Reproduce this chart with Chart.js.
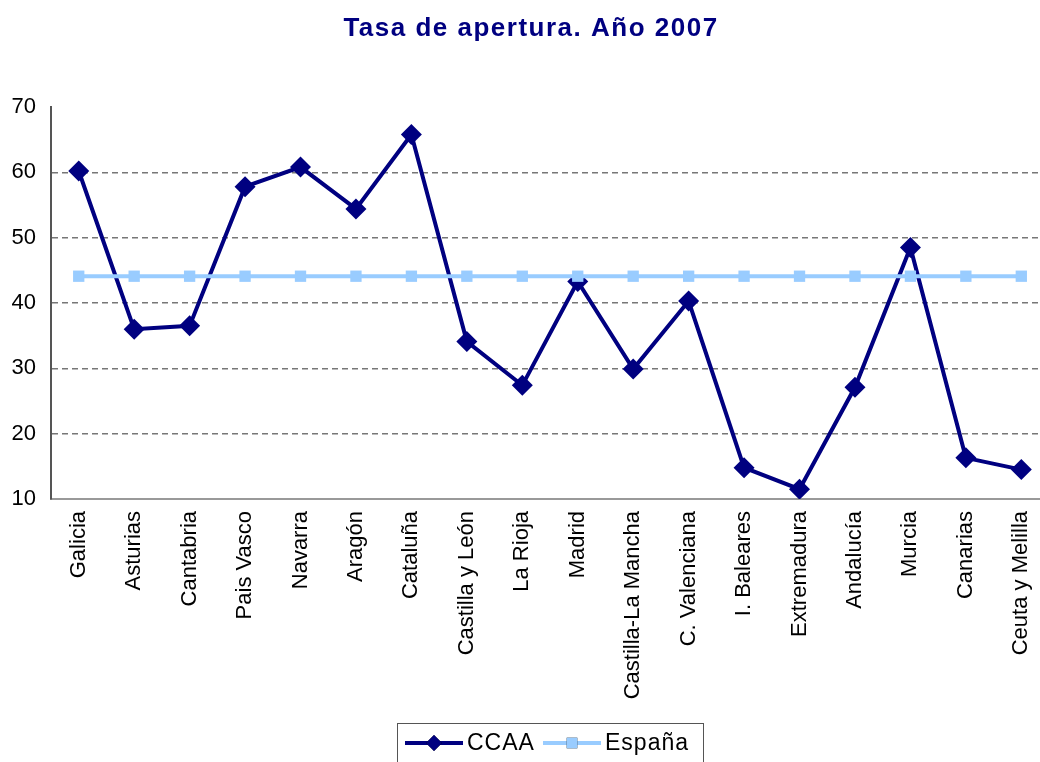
<!DOCTYPE html>
<html>
<head>
<meta charset="utf-8">
<script src="https://cdn.jsdelivr.net/npm/chart.js@4/dist/chart.umd.min.js"></script>
<style>
    html, body { margin: 0; padding: 0; background: #fff; overflow: hidden; }
    #wrap { width: 1060px; height: 762px; }
</style>
</head>
<body>
<div id="wrap"><canvas id="myChart" width="1060" height="762"></canvas></div>
<script>
// Comunidades autónomas
let regiones = ["Galicia", "Asturias", "Cantabria", "Pais Vasco", "Navarra", "Aragón",
    "Cataluña", "Castilla y León", "La Rioja", "Madrid", "Castilla-La Mancha",
    "C. Valenciana", "I. Baleares", "Extremadura", "Andalucía", "Murcia",
    "Canarias", "Ceuta y Melilla"];

// Tasa de apertura por comunidad (%)
let tasaCCAA = [60.2, 36.0, 36.5, 57.8, 60.8, 54.4, 65.8, 34.1, 27.4, 43.3,
    29.9, 40.3, 14.8, 11.5, 27.1, 48.5, 16.3, 14.5];

// Media nacional, la misma para todas
let tasaEspana = [44.1, 44.1, 44.1, 44.1, 44.1, 44.1, 44.1, 44.1, 44.1, 44.1,
    44.1, 44.1, 44.1, 44.1, 44.1, 44.1, 44.1, 44.1];

let yTicks = [10, 20, 30, 40, 50, 60, 70];

let titulo = 'Tasa de apertura. Año 2007';

let fuente = "'Liberation Sans', Arial, sans-serif";

// titulo dibujado a mano para poder espaciar las letras
const tituloPlugin = {
    id: 'tituloPlugin',
    afterDraw(chart) {
        let c = chart.ctx;
        c.save();
        c.font = 'bold 26px ' + fuente;
        c.fillStyle = '#000080';
        c.textAlign = 'center';
        c.textBaseline = 'alphabetic';
        if ('letterSpacing' in c) c.letterSpacing = '1.5px';
        c.fillText(titulo, 531, 36);
        c.restore();
    }
};

// leyenda con linea y marcador, en un recuadro abajo
const leyendaPlugin = {
    id: 'leyendaPlugin',
    afterDraw(chart) {
        let c = chart.ctx;
        let ds = chart.data.datasets;
        c.save();
        c.strokeStyle = '#555';
        c.lineWidth = 1;
        c.strokeRect(397.5, 723.5, 306, 60);

        let yLin = 743;
        let items = [
            {x0: 405, x1: 463, texto: ds[0].label, ds: ds[0], r: 8},
            {x0: 543, x1: 601, texto: ds[1].label, ds: ds[1], r: 7.5}
        ];
        items.forEach(function (it) {
            c.strokeStyle = it.ds.borderColor;
            c.lineWidth = 4;
            c.beginPath();
            c.moveTo(it.x0, yLin);
            c.lineTo(it.x1, yLin);
            c.stroke();
            Chart.helpers.drawPoint(c, {
                pointStyle: it.ds.pointStyle,
                radius: it.r,
                rotation: 0,
                borderWidth: 0
            }, (it.x0 + it.x1) / 2, yLin);
            c.fillStyle = it.ds.pointBackgroundColor;
            c.fill();
            c.fillStyle = '#000';
            c.font = '23px ' + fuente;
            if ('letterSpacing' in c) c.letterSpacing = '1px';
            c.textAlign = 'left';
            c.textBaseline = 'middle';
            c.fillText(it.texto, it.x1 + 4, yLin + 1);
        });
        c.restore();
    }
};

let ctx = document.getElementById('myChart').getContext('2d');
let myChart = new Chart(ctx, {
    type: 'line',
    data: {
        labels: regiones,
        datasets: [
            {
                label: 'CCAA',
                data: tasaCCAA,
                borderColor: '#000080',
                backgroundColor: '#000080',
                pointBackgroundColor: '#000080',
                pointBorderColor: '#000080',
                borderWidth: 4,
                pointStyle: 'rectRot',
                pointRadius: 10.5,
                pointBorderWidth: 0,
                tension: 0,
                order: 1
            },
            {
                label: 'España',
                data: tasaEspana,
                borderColor: '#99ccff',
                backgroundColor: '#99ccff',
                pointBackgroundColor: '#99ccff',
                pointBorderColor: '#99ccff',
                borderWidth: 4,
                pointStyle: 'rect',
                pointRadius: 8,
                pointBorderWidth: 0,
                tension: 0,
                order: 0 // la media nacional queda por encima
            }
        ]
    },
    options: {
        responsive: false,
        animation: false,
        events: [],
        layout: {
            padding: {top: 107, right: 10, bottom: 0, left: 0}
        },
        plugins: {
            legend: {display: false},
            title: {display: false},
            tooltip: {enabled: false}
        },
        scales: {
            x: {
                offset: true,
                grid: {display: false, drawTicks: false, offset: true},
                border: {display: true, color: '#999', width: 2},
                ticks: {
                    autoSkip: false,
                    maxRotation: 90,
                    minRotation: 90,
                    padding: 12,
                    color: '#000',
                    font: {size: 22, family: fuente}
                },
                afterFit: function (scale) {
                    scale.height = 263;
                }
            },
            y: {
                min: 10,
                max: 70,
                afterBuildTicks: function (scale) {
                    scale.ticks = yTicks.map(v => ({value: v}));
                },
                grid: {
                    drawTicks: false,
                    lineWidth: 1.5,
                    color: function (context) {
                        let v = context.tick ? context.tick.value : null;
                        if (v === 10 || v === 70) return 'rgba(0,0,0,0)';
                        return '#777';
                    }
                },
                border: {display: true, color: '#555', width: 2, dash: [6, 4]},
                ticks: {
                    padding: 15,
                    color: '#000',
                    font: {size: 22, family: fuente}
                },
                afterFit: function (scale) {
                    scale.width = 51;
                }
            }
        }
    },
    plugins: [tituloPlugin, leyendaPlugin]
});
</script>
</body>
</html>
